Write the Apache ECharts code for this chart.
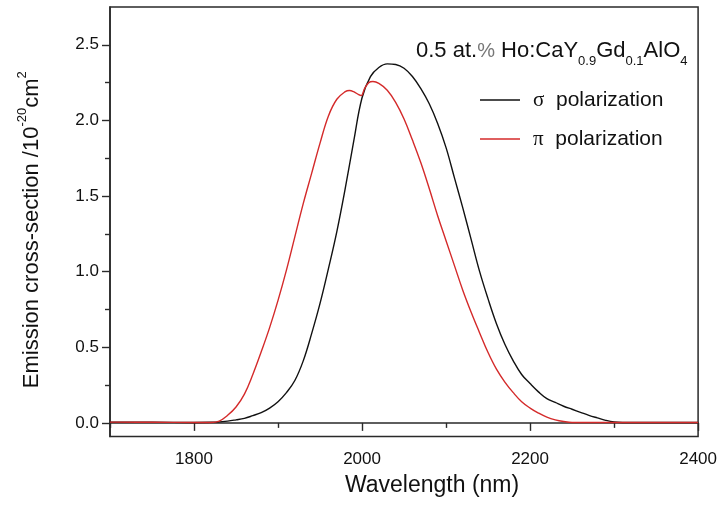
<!DOCTYPE html>
<html>
<head>
<meta charset="utf-8">
<script src="https://cdn.jsdelivr.net/npm/echarts@6/dist/echarts.min.js"></script>
<style>
html,body{margin:0;padding:0;background:#fff;}
#chart{width:720px;height:508px;}
</style>
</head>
<body>
<div id="chart"></div>
<script>
// Wavelength (nm) / cross-section (10^-20 cm^2)
var sigmaWl = [1700,1750,1800,1820,1840,1850,1860,1870,1880,1890,1900,1910,1920,1930,1940,1950,1960,1970,1980,1990,2000,2010,2020,2030,2040,2050,2060,2070,2080,2090,2100,2110,2120,2130,2140,2150,2160,2170,2180,2190,2200,2210,2220,2230,2240,2250,2260,2270,2280,2290,2300,2310,2350,2400];
var sigmaVal = [0.005,0.004,0.003,0.004,0.012,0.02,0.03,0.048,0.068,0.098,0.14,0.2,0.28,0.41,0.59,0.79,1.02,1.265,1.55,1.86,2.15,2.29,2.35,2.374,2.37,2.345,2.29,2.21,2.11,1.98,1.82,1.62,1.42,1.21,1.0,0.82,0.656,0.52,0.41,0.32,0.26,0.205,0.16,0.135,0.11,0.09,0.07,0.05,0.033,0.017,0.006,0.003,0.003,0.003];
var piWl = [1700,1750,1800,1820,1830,1840,1850,1860,1870,1880,1890,1900,1910,1920,1930,1940,1950,1960,1970,1980,1985,1990,1996,1999,2003,2008,2013,2020,2030,2040,2050,2060,2070,2080,2090,2100,2110,2120,2130,2140,2150,2160,2170,2180,2190,2200,2210,2220,2230,2240,2250,2300,2350,2400];
var piVal = [0.005,0.004,0.003,0.003,0.012,0.05,0.105,0.19,0.32,0.47,0.63,0.81,1.01,1.23,1.45,1.65,1.85,2.03,2.14,2.19,2.198,2.19,2.17,2.164,2.21,2.25,2.257,2.245,2.2,2.12,2.01,1.87,1.72,1.55,1.37,1.205,1.04,0.876,0.73,0.595,0.465,0.355,0.27,0.2,0.14,0.098,0.065,0.038,0.02,0.009,0.003,0.003,0.003,0.003];
var xMajorTicks = [1800,2000,2200,2400];
var xMinorTicks = [1700,1900,2100,2300];
var yMajorTicks = [0,0.5,1,1.5,2,2.5];
var yMinorTicks = [0.25,0.75,1.25,1.75,2.25];
var seriesNames = ['\u03c3 polarization','\u03c0 polarization'];

function pairs(xs, ys){ return xs.map(function(x,i){ return [x, ys[i]]; }); }

var FONT = 'Liberation Sans, Arial, sans-serif';
var AX = '#2a2a2a';
var chart = echarts.init(document.getElementById('chart'), null, {renderer:'canvas'});
chart.setOption({
  backgroundColor:'#fff',
  animation:false,
  title:{
    left:416, top:34, padding:0,
    text:'0.5 at.{p|%} Ho:CaY{s|0.9}Gd{s|0.1}AlO{s|4}',
    textStyle:{
      fontFamily:FONT, fontSize:22, fontWeight:'normal', color:'#111', lineHeight:34,
      rich:{
        p:{fontFamily:FONT, fontSize:20, color:'#777', lineHeight:34},
        s:{fontFamily:FONT, fontSize:13, color:'#111', verticalAlign:'bottom', lineHeight:13}
      }
    }
  },
  legend:{
    orient:'vertical', left:475, top:83, itemGap:15,
    itemWidth:40, itemHeight:1.5,
    icon:'path://M0 0H40V1.5H0Z',
    data:seriesNames,
    formatter:function(n){ return '{g|' + n.charAt(0) + '}  polarization'; },
    textStyle:{
      fontFamily:FONT, fontSize:21, color:'#111', lineHeight:24,
      rich:{ g:{fontFamily:'Liberation Serif, Times New Roman, serif', fontSize:21, color:'#111', padding:[0,0,0,8]} }
    }
  },
  grid:{left:110, right:21, top:7, bottom:71.5, show:true, borderColor:AX, borderWidth:1.5, backgroundColor:'transparent'},
  xAxis:[{
    type:'value', min:1700, max:2400,
    name:'Wavelength (nm)', nameLocation:'middle', nameGap:38,
    nameTextStyle:{fontFamily:FONT, fontSize:23, color:'#111', padding:[0,0,0,56]},
    axisLine:{show:true, lineStyle:{color:AX, width:1.6}},
    axisTick:{show:true, inside:false, length:8, customValues:xMajorTicks, lineStyle:{color:AX, width:1.4}},
    axisLabel:{show:true, customValues:xMajorTicks, margin:14, fontFamily:FONT, fontSize:17, color:'#111',
      formatter:function(v){ return String(v); }},
    splitLine:{show:false}
  },{
    type:'value', min:1700, max:2400, position:'bottom',
    axisLine:{show:false},
    axisTick:{show:true, inside:false, length:5, customValues:xMinorTicks, lineStyle:{color:AX, width:1.4}},
    axisLabel:{show:false},
    splitLine:{show:false}
  }],
  yAxis:[{
    type:'value', min:-0.09, max:2.75,
    name:'Emission cross-section /10{u|-20}cm{u|2}', nameLocation:'middle', nameGap:62, nameRotate:90,
    nameTextStyle:{fontFamily:FONT, fontSize:22, color:'#111', lineHeight:32, padding:[0,0,0,-16],
      rich:{u:{fontFamily:FONT, fontSize:13, color:'#111', verticalAlign:'top', lineHeight:13}}},
    axisLine:{show:true, lineStyle:{color:AX, width:1.6}},
    axisTick:{show:true, inside:false, length:8, customValues:yMajorTicks, lineStyle:{color:AX, width:1.4}},
    axisLabel:{show:true, customValues:yMajorTicks, margin:11, fontFamily:FONT, fontSize:17, color:'#111',
      formatter:function(v){ return v.toFixed(1); }},
    splitLine:{show:false}
  },{
    type:'value', min:-0.09, max:2.75, position:'left',
    axisLine:{show:false},
    axisTick:{show:true, inside:false, length:5, customValues:yMinorTicks, lineStyle:{color:AX, width:1.4}},
    axisLabel:{show:false},
    splitLine:{show:false}
  }],
  series:[{
    name:seriesNames[0], type:'line', xAxisIndex:0, yAxisIndex:0,
    data:pairs(sigmaWl, sigmaVal), showSymbol:false, symbol:'none',
    smooth:0.4,
    lineStyle:{color:'#111', width:1.4}, itemStyle:{color:'#111'}
  },{
    name:seriesNames[1], type:'line', xAxisIndex:0, yAxisIndex:0,
    data:pairs(piWl, piVal), showSymbol:false, symbol:'none',
    smooth:0.4,
    lineStyle:{color:'#d42a2a', width:1.4}, itemStyle:{color:'#d42a2a'}
  }]
});
</script>
</body>
</html>
